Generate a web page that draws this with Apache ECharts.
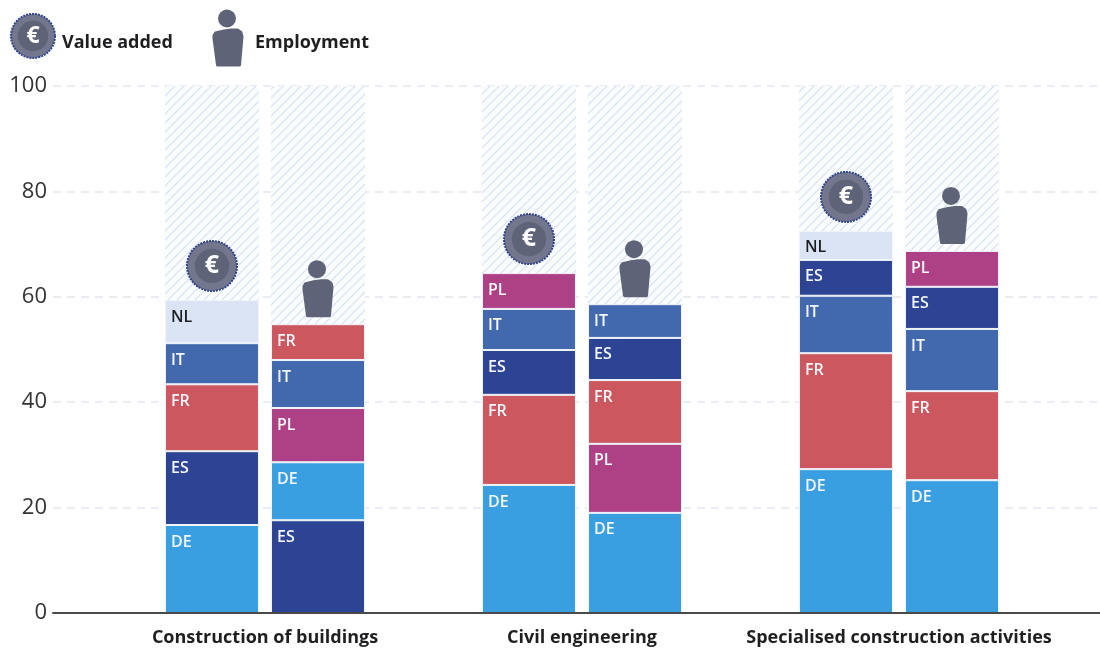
<!DOCTYPE html>
<html>
<head>
<meta charset="utf-8">
<style>
  html, body { margin: 0; padding: 0; background: #fff; }
  #chart { width: 1100px; height: 648px; }
</style>
<script src="https://cdn.jsdelivr.net/npm/echarts@6/dist/echarts.min.js"></script>
</head>
<body>
<div id="chart"></div>
<script>
const sectors = ["Construction of buildings", "Civil engineering", "Specialised construction activities"];
const yTicks = [0, 20, 40, 60, 80, 100];

// bottom to top, the country order changes from bar to bar
const valueAddedCodes = [
  ["DE", "ES", "FR", "IT", "NL"],
  ["DE", "FR", "ES", "IT", "PL"],
  ["DE", "FR", "IT", "ES", "NL"],
];
const valueAddedShares = [
  [16.7, 14.0, 12.7, 7.8, 8.2],
  [24.3, 17.1, 8.5, 7.8, 6.8],
  [27.3, 22.0, 10.9, 6.8, 5.5],
];
const employmentCodes = [
  ["ES", "DE", "PL", "IT", "FR"],
  ["DE", "PL", "FR", "ES", "IT"],
  ["DE", "FR", "IT", "ES", "PL"],
];
const employmentShares = [
  [17.6, 11.0, 10.3, 9.1, 6.8],
  [19.0, 13.1, 12.1, 8.0, 6.4],
  [25.2, 16.9, 11.8, 8.0, 6.8],
];

const countryColors = {
  DE: "#399fe0",
  ES: "#2d4494",
  FR: "#cc575f",
  IT: "#4269ae",
  PL: "#ae4186",
  NL: "#dae4f5",
};

const BAR_WIDTH = 94;
const BAR_OFFSET = 53;
const FONT = '"Open Sans", sans-serif';

function hatchPattern() {
  const size = 9;
  const c = document.createElement("canvas");
  c.width = size;
  c.height = size;
  const ctx = c.getContext("2d");
  ctx.fillStyle = "#fbfcfe";
  ctx.fillRect(0, 0, size, size);
  ctx.strokeStyle = "#d6e1f3";
  ctx.lineWidth = 1.2;
  ctx.beginPath();
  ctx.moveTo(-2, size + 2);
  ctx.lineTo(size + 2, -2);
  ctx.moveTo(-2, 2);
  ctx.lineTo(2, -2);
  ctx.moveTo(size - 2, size + 2);
  ctx.lineTo(size + 2, size - 2);
  ctx.stroke();
  return c;
}
const hatch = hatchPattern();

function coinIcon(cx, cy, r) {
  return [
    { type: "circle", shape: { cx, cy, r: r - 1 }, style: { fill: "#73768c", stroke: "#2f4488", lineWidth: 2, lineDash: [2, 1] } },
    { type: "circle", shape: { cx, cy, r: r * 0.66 }, style: { fill: "#5f6378" } },
    { type: "text", style: { text: "€", x: cx, y: cy, fill: "#fff", font: "bold " + Math.round(r * 0.98) + "px " + FONT, align: "center", verticalAlign: "middle" } },
  ];
}

function personIcon(cx, headY) {
  const top = headY + 10;
  return [
    { type: "circle", shape: { cx: cx - 1, cy: headY, r: 9 }, style: { fill: "#5f6378" } },
    {
      type: "polygon",
      shape: {
        points: [
          [cx - 12.5, top + 4.5],
          [cx - 4, top + 2.5],
          [cx + 3, top + 1.5],
          [cx + 9.5, top + 1.5],
          [cx + 13, top + 4],
          [cx + 14, top + 8],
          [cx + 11.5, top + 36.5],
          [cx - 10.5, top + 36.5],
          [cx - 14, top + 10],
          [cx - 14, top + 7],
        ],
      },
      style: { fill: "#5f6378", stroke: "#5f6378", lineWidth: 3, lineJoin: "round" },
    },
  ];
}

function sum(list) {
  return list.reduce((a, b) => a + b, 0);
}

function stackSeries(stackName, codes, shares) {
  return shares[0].map((_, layer) => ({
    name: stackName + layer,
    type: "bar",
    stack: stackName,
    xAxisIndex: 1,
    yAxisIndex: 1,
    barWidth: BAR_WIDTH,
    barGap: "12.8%",
    showBackground: layer === 0,
    backgroundStyle: { color: { image: hatch, repeat: "repeat" }, opacity: 1 },
    itemStyle: { borderColor: "#f1f5fb", borderWidth: 1 },
    label: {
      show: true,
      position: [6, 9],
      fontFamily: FONT,
      fontSize: 16,
      fontWeight: 600,
      formatter: (p) => p.data.code,
    },
    data: shares.map((row, i) => ({
      value: row[layer],
      code: codes[i][layer],
      itemStyle: { color: countryColors[codes[i][layer]] },
      label: { color: codes[i][layer] === "NL" ? "#1d1d1f" : "#f4f7fb" },
    })),
  }));
}

// icons sit on top of each stack
const iconData = [];
sectors.forEach((_, i) => {
  iconData.push([i, sum(valueAddedShares[i]), 0]);
  iconData.push([i, sum(employmentShares[i]), 1]);
});

const iconSeries = {
  type: "custom",
  xAxisIndex: 1,
  yAxisIndex: 1,
  silent: true,
  clip: false,
  z: 5,
  data: iconData,
  encode: { x: 0, y: 1 },
  renderItem(params, api) {
    const p = api.coord([api.value(0), api.value(1)]);
    const isPerson = api.value(2) === 1;
    return {
      type: "group",
      children: isPerson
        ? personIcon(p[0] + BAR_OFFSET, p[1] - 55)
        : coinIcon(p[0] - BAR_OFFSET, p[1] - 34, 26),
    };
  },
};

const chart = echarts.init(document.getElementById("chart"), null, { renderer: "canvas" });
chart.setOption({
  animation: false,
  backgroundColor: "#fff",
  grid: [
    { left: 53, right: 0, top: 86, bottom: 35 },
    { left: 106.5, width: 951, top: 86, bottom: 35 },
  ],
  xAxis: [
    {
      gridIndex: 0,
      type: "category",
      data: [""],
      axisTick: { show: false },
      axisLabel: { show: false },
      axisLine: { lineStyle: { color: "#4a4a4a", width: 2 } },
      z: 6,
    },
    {
      gridIndex: 1,
      type: "category",
      data: sectors,
      axisTick: { show: false },
      axisLine: { show: false },
      axisLabel: {
        interval: 0,
        color: "#1f1f22",
        fontFamily: FONT,
        fontSize: 18,
        fontWeight: 700,
        margin: 16,
      },
    },
  ],
  yAxis: [
    {
      gridIndex: 0,
      type: "value",
      min: yTicks[0],
      max: yTicks[yTicks.length - 1],
      interval: yTicks[1] - yTicks[0],
      axisLine: { show: false },
      axisTick: { show: false },
      axisLabel: { color: "#333", fontFamily: FONT, fontSize: 22, margin: 6 },
      splitLine: { lineStyle: { type: [8, 6], color: "#e4e8ee", width: 1.5 } },
    },
    {
      gridIndex: 1,
      type: "value",
      min: yTicks[0],
      max: yTicks[yTicks.length - 1],
      show: false,
      splitLine: { show: false },
    },
  ],
  series: [
    ...stackSeries("valueAdded", valueAddedCodes, valueAddedShares),
    ...stackSeries("employment", employmentCodes, employmentShares),
    iconSeries,
  ],
  graphic: [
    { type: "group", children: coinIcon(33, 36, 23) },
    { type: "group", children: personIcon(228, 18.5) },
    { type: "text", left: 62, top: 34, style: { text: "Value added", fill: "#1f1f22", font: "bold 18px " + FONT } },
    { type: "text", left: 255, top: 34, style: { text: "Employment", fill: "#1f1f22", font: "bold 18px " + FONT } },
  ],
});
window.addEventListener("resize", () => chart.resize());
</script>
</body>
</html>
